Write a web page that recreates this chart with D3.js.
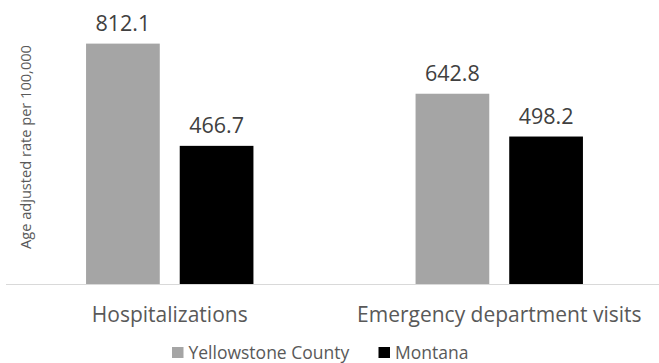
<!DOCTYPE html>
<html>
<head>
<meta charset="utf-8">
<script src="https://cdn.jsdelivr.net/npm/d3@7"></script>
<style>
  html, body { margin: 0; padding: 0; background: #fff; }
  svg { display: block; font-family: "Open Sans", sans-serif; }
</style>
</head>
<body>
<svg id="chart" width="659" height="363"></svg>
<script>
const categories = ["Hospitalizations", "Emergency department visits"];
const seriesNames = ["Yellowstone County", "Montana"];
const yellowstoneValues = [812.1, 642.8];
const montanaValues = [466.7, 498.2];
const seriesColors = ["#A5A5A5", "#000000"];
const yAxisTitle = "Age adjusted rate per 100,000";

const seriesValues = [yellowstoneValues, montanaValues];
const svg = d3.select("#chart");

const plot = { left: 5, right: 664, top: 17.6, bottom: 284 };

const x0 = d3.scaleBand().domain(categories).range([plot.left, plot.right]).paddingInner(0).paddingOuter(0);
const groupWidth = x0.bandwidth() * 0.508;
const x1 = d3.scaleBand().domain(seriesNames).range([0, groupWidth]).paddingInner(0.213).paddingOuter(0);
const y = d3.scaleLinear().domain([0, 900]).range([plot.bottom, plot.top]);

// axis line
svg.append("line")
  .attr("x1", 6).attr("x2", 659)
  .attr("y1", y(0) + 0.5).attr("y2", y(0) + 0.5)
  .attr("stroke", "#D9D9D9").attr("stroke-width", 1.2);

const groups = svg.selectAll("g.cat").data(categories).join("g")
  .attr("class", "cat")
  .attr("transform", d => `translate(${x0(d) + (x0.bandwidth() - groupWidth) / 2},0)`);

groups.each(function(cat, ci) {
  const g = d3.select(this);
  seriesNames.forEach((s, si) => {
    const v = seriesValues[si][ci];
    g.append("rect")
      .attr("x", x1(s)).attr("width", x1.bandwidth())
      .attr("y", y(v)).attr("height", y(0) - y(v))
      .attr("fill", seriesColors[si]);
    g.append("text")
      .attr("x", x1(s) + x1.bandwidth() / 2)
      .attr("y", y(v) - 13)
      .attr("text-anchor", "middle")
      .attr("font-size", 21.5)
      .attr("fill", "#404040")
      .text(v.toFixed(1));
  });
});

// category labels
svg.selectAll("text.cat").data(categories).join("text")
  .attr("class", "cat")
  .attr("x", d => x0(d) + x0.bandwidth() / 2)
  .attr("y", 322)
  .attr("text-anchor", "middle")
  .attr("font-size", 21)
  .attr("fill", "#595959")
  .text(d => d);

// y axis title
svg.append("text")
  .attr("transform", `translate(30.5,147) rotate(-90)`)
  .attr("text-anchor", "middle")
  .attr("font-size", 14.6)
  .attr("fill", "#595959")
  .text(yAxisTitle);

// legend
const legendItems = [
  { name: seriesNames[0], color: seriesColors[0], x: 172 },
  { name: seriesNames[1], color: seriesColors[1], x: 378.5 }
];
const lg = svg.selectAll("g.legend").data(legendItems).join("g").attr("class", "legend");
lg.append("rect")
  .attr("x", d => d.x).attr("y", 347)
  .attr("width", 11.5).attr("height", 11)
  .attr("fill", d => d.color);
lg.append("text")
  .attr("x", d => d.x + 16.5).attr("y", 358.5)
  .attr("font-size", 17.5)
  .attr("fill", "#595959")
  .text(d => d.name);
</script>
</body>
</html>
